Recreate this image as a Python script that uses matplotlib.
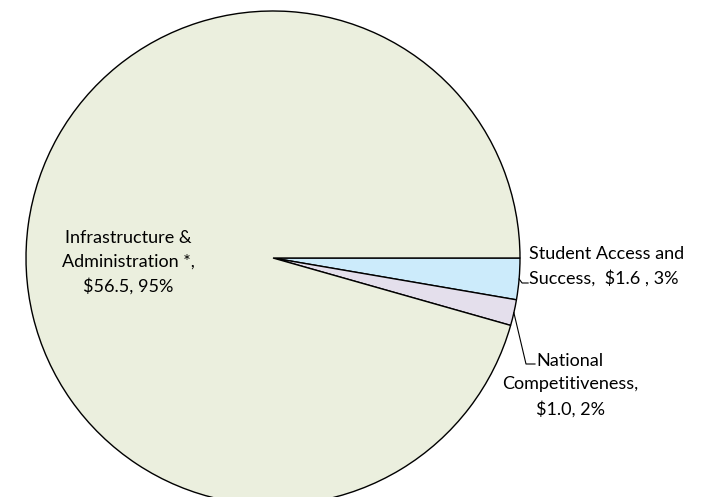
import matplotlib
matplotlib.use("Agg")
import matplotlib.pyplot as plt
import numpy as np

categories = ["Student Access and\nSuccess,  $1.6 , 3%",
              "National\nCompetitiveness,\n$1.0, 2%",
              "Infrastructure &\nAdministration *,\n$56.5, 95%"]
values = [1.6, 1.0, 56.5]
colors = ["#CCEBFB", "#E4DFEC", "#EBEFDE"]

W, H = 706, 497
fig = plt.figure(figsize=(W / 100, H / 100), dpi=100)
ax = fig.add_axes([0, 0, 1, 1])
ax.set_xlim(0, W)
ax.set_ylim(0, H)
ax.set_aspect("equal")
ax.axis("off")

cx, cy, r = 273, H - 258, 247
wedges, _ = ax.pie(values, colors=colors, startangle=0, counterclock=False,
                   center=(cx, cy), radius=r,
                   wedgeprops=dict(edgecolor="black", linewidth=1.0))
ax.set_xlim(0, W)
ax.set_ylim(0, H)

font = dict(family=["Lato", "DejaVu Sans"], fontsize=13, linespacing=1.58)

def rim(w):
    a = np.deg2rad((w.theta1 + w.theta2) / 2)
    return cx + r * np.cos(a), cy + r * np.sin(a)

# Student Access label
x0, y0 = rim(wedges[0])
ax.plot([x0, x0 + 3, x0 + 9], [y0, H - 283, H - 283], color="black", lw=0.8)
ax.text(529, H - 266, categories[0], ha="left", va="center", **font)

# National Competitiveness label
x1, y1 = rim(wedges[1])
ax.plot([x1, 526, 535], [y1, H - 364, H - 364], color="black", lw=0.8)
ax.text(570, H - 385, categories[1], ha="center", va="center", **font)

# Infrastructure label
ax.text(128, H - 262, categories[2], ha="center", va="center", **font)

fig.savefig("out.png", dpi=100)
